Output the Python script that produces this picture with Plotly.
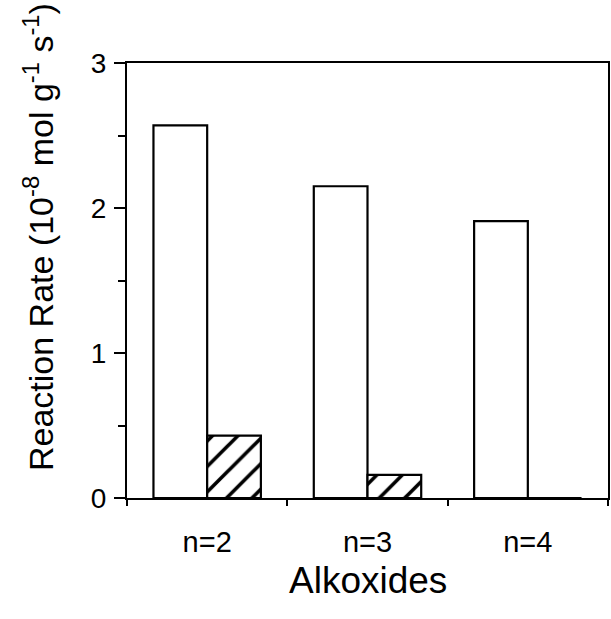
import plotly.graph_objects as go

categories = ["n=2", "n=3", "n=4"]
open_values = [2.57, 2.15, 1.91]
hatched_values = [0.43, 0.16, 0.0]
y_ticks = [0, 1, 2, 3]

font_family = "Liberation Sans, Arial, sans-serif"

fig = go.Figure()
fig.add_trace(go.Bar(
    x=categories, y=open_values,
    marker=dict(color="white", line=dict(color="black", width=2.2)),
    showlegend=False,
))
fig.add_trace(go.Bar(
    x=categories, y=hatched_values,
    marker=dict(color="white", line=dict(color="black", width=2.2),
                pattern=dict(shape="/", size=18, solidity=0.2, fgcolor="black",
                             bgcolor="white", fgopacity=1)),
    showlegend=False,
))

fig.update_layout(
    width=611, height=619,
    margin=dict(l=127, r=1, t=63, b=121),
    paper_bgcolor="white", plot_bgcolor="white",
    barmode="group", bargap=0.33, bargroupgap=0,
    font=dict(family=font_family, color="black", size=28),
    xaxis=dict(
        type="category", showline=True, linecolor="black", linewidth=2, mirror=True,
        ticks="outside", tickson="boundaries", ticklen=6, tickwidth=2, tickcolor="black",
        tickfont=dict(size=29), showgrid=False, zeroline=False,
        ticklabelstandoff=17,
    ),
    yaxis=dict(
        range=[0, 3], tickvals=y_ticks, showline=True, linecolor="black", linewidth=2, mirror=True,
        ticks="outside", ticklen=11, tickwidth=2, tickcolor="black",
        tickfont=dict(size=28), showgrid=False, zeroline=False, ticklabelstandoff=2,
        minor=dict(dtick=0.5, ticks="outside", ticklen=7, tickwidth=2, tickcolor="black",
                   showgrid=False),
    ),
    annotations=[
        dict(text="Reaction Rate (10<sup>-8</sup> mol g<sup>-1</sup> s<sup>-1</sup>)",
             xref="paper", yref="paper", x=-0.185, y=0.6, xanchor="center", yanchor="middle",
             textangle=-90, showarrow=False, font=dict(size=34)),
        dict(text="Alkoxides", xref="paper", yref="paper", x=0.5, y=-0.19,
             xanchor="center", yanchor="middle", showarrow=False, font=dict(size=37)),
    ],
)

fig.write_html("out.html", config={"displayModeBar": False},
               post_script="document.body.style.margin='0';")
